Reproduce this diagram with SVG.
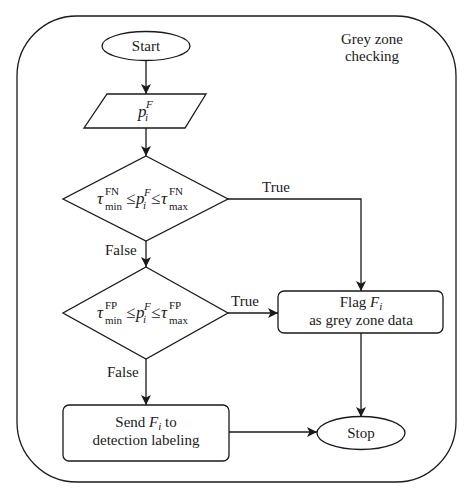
<svg xmlns="http://www.w3.org/2000/svg" width="473" height="500" viewBox="0 0 473 500" font-family="Liberation Serif, Times New Roman, Times, DejaVu Serif, serif">
<defs>
<style>
.s{fill:#fff;stroke:#1a1a1a;stroke-width:1.3}
.c{fill:none;stroke:#1a1a1a;stroke-width:1.3}
text{font-family:'Liberation Serif','Times New Roman',Times,'DejaVu Serif',serif;fill:#1a1a1a;font-size:15px}
.m{text-anchor:middle}
.it{font-style:italic}
.sm{font-size:11px}
.mt{font-size:17px}
</style>
<marker id="ah" viewBox="0 0 10 10" refX="10" refY="5" markerWidth="10" markerHeight="10" markerUnits="userSpaceOnUse" orient="auto">
<path d="M0,0 L10,5 L0,10 L2.5,5 Z" fill="#1a1a1a"/>
</marker>
</defs>
<rect width="473" height="500" fill="#fff"/>
<g id="frame">
<rect x="17" y="16" width="439" height="466" rx="60" ry="60" class="c"/>
<text x="372" y="44" class="m">Grey zone</text>
<text x="372" y="61" class="m">checking</text>
</g>
<g id="connectors">
<path d="M146,60 V94" class="c" marker-end="url(#ah)"/>
<path d="M146,128 V156" class="c" marker-end="url(#ah)"/>
<path d="M146,241 V267" class="c" marker-end="url(#ah)"/>
<path d="M228,199 H361 V291" class="c" marker-end="url(#ah)"/>
<path d="M228,313 H278" class="c" marker-end="url(#ah)"/>
<path d="M146,359 V405" class="c" marker-end="url(#ah)"/>
<path d="M361,333 V417" class="c" marker-end="url(#ah)"/>
<path d="M229,432 H317" class="c" marker-end="url(#ah)"/>
<text x="262" y="192">True</text>
<text x="231" y="306">True</text>
<text x="105" y="255">False</text>
<text x="107" y="377">False</text>
</g>
<g id="start">
<ellipse cx="146" cy="46" rx="44" ry="14.5" class="s"/>
<text x="146" y="51" class="m">Start</text>
</g>
<g id="input">
<polygon points="107,94 206,94 185,128 84,128" class="s"/>
<text class="mt it"><tspan x="138" y="117">p</tspan><tspan x="145" y="121" class="sm">i</tspan><tspan x="146" y="108" class="sm">F</tspan></text>
</g>
<g id="check-fn">
<polygon points="146,156 228,199 146,241 63,199" class="s"/>
<text class="mt"><tspan x="97" y="204" class="it">τ</tspan><tspan x="105" y="195" class="sm">FN</tspan><tspan x="105" y="210" class="sm">min</tspan><tspan x="126" y="204">≤</tspan><tspan x="136" y="204" class="it">p</tspan><tspan x="143" y="209" class="sm it">i</tspan><tspan x="144" y="196" class="sm it">F</tspan><tspan x="151" y="204">≤</tspan><tspan x="161" y="204" class="it">τ</tspan><tspan x="169" y="195" class="sm">FN</tspan><tspan x="169" y="210" class="sm">max</tspan></text>
</g>
<g id="check-fp">
<polygon points="146,267 228,313 146,359 63,313" class="s"/>
<text class="mt"><tspan x="97" y="318" class="it">τ</tspan><tspan x="105" y="309" class="sm">FP</tspan><tspan x="105" y="324" class="sm">min</tspan><tspan x="126" y="318">≤</tspan><tspan x="136" y="318" class="it">p</tspan><tspan x="143" y="323" class="sm it">i</tspan><tspan x="144" y="310" class="sm it">F</tspan><tspan x="151" y="318">≤</tspan><tspan x="161" y="318" class="it">τ</tspan><tspan x="169" y="309" class="sm">FP</tspan><tspan x="169" y="324" class="sm">max</tspan></text>
</g>
<g id="flag">
<rect x="278" y="291" width="165" height="42" rx="6" class="s"/>
<text x="361" y="307" class="m">Flag <tspan class="it">F</tspan><tspan class="sm it" dy="3">i</tspan></text>
<text x="361" y="325" class="m">as grey zone data</text>
</g>
<g id="send">
<rect x="63" y="405" width="166" height="56" rx="6" class="s"/>
<text x="146" y="427" class="m">Send <tspan class="it">F</tspan><tspan class="sm it" dy="3">i</tspan><tspan dy="-3"> to</tspan></text>
<text x="146" y="445" class="m">detection labeling</text>
</g>
<g id="stop">
<ellipse cx="361" cy="433" rx="44" ry="16.5" class="s"/>
<text x="361" y="438" class="m">Stop</text>
</g>
</svg>
